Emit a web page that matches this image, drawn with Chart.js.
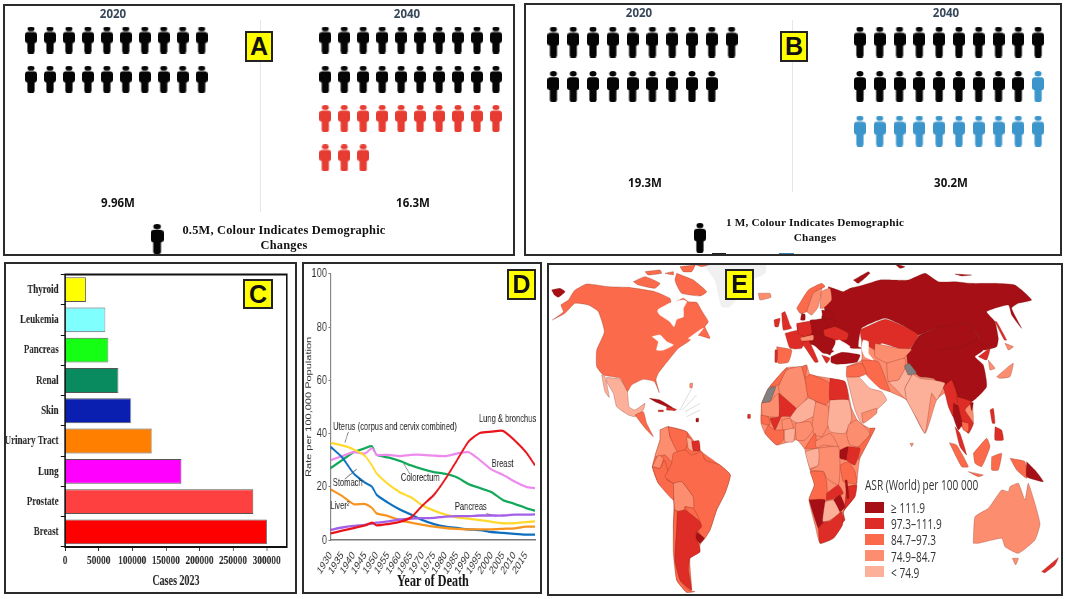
<!DOCTYPE html>
<html>
<head>
<meta charset="utf-8">
<title>Cancer burden figure</title>
<script src="https://cdn.jsdelivr.net/npm/chart.js@4/dist/chart.umd.min.js"></script>
<style>
  html, body { margin: 0; padding: 0; background: #fff; overflow: hidden; }
  body { width: 1065px; height: 599px; position: relative; }
  canvas { position: absolute; transform-origin: 0 0; }
  .panel { position: absolute; box-sizing: border-box; border: 2px solid #2b2b2b; }
  .tag { position: absolute; box-sizing: border-box; background: #ffff00; border: 2px solid #222; font: bold 25px "Liberation Sans"; color: #111; text-align: center; z-index: 5; }
  .txt { position: absolute; white-space: nowrap; transform: translate(-50%, -50%); z-index: 4; }
  .yr { font: bold 11.5px "Open Sans"; color: #37475a; }
  .tot { font: bold 11.5px "Open Sans"; color: #111; }
  .key { font: bold 12.4px "Liberation Serif"; color: #111; letter-spacing: .2px; }
  .divider { position: absolute; background: #e6e6e6; width: 1px; }
  .swatch { position: absolute; width: 19px; height: 11px; z-index: 4; }
  .lg { position: absolute; font: 14px "Open Sans"; color: #333; white-space: nowrap; transform-origin: 0 50%; transform: translateY(-50%) scaleX(.72); z-index: 4; }
</style>
</head>
<body>
<script>
// panel A / B counts (one icon = 0.5M / 1M)
const a2020Black = 20;
const a2040Black = 20;
const a2040Red = 13;
const b2020Black = 19;
const b2040Black = 19;
const b2040Blue = 11;

// panel C
const cancerTypes = ['Thyroid', 'Leukemia', 'Pancreas', 'Renal', 'Skin', 'Urinary Tract', 'Lung', 'Prostate', 'Breast'];
const cases2023 = [31000, 59500, 64000, 79000, 98000, 129000, 173000, 280000, 300000];
const caseTicks = [0, 50000, 100000, 150000, 200000, 250000, 300000];
const barColours = ['#ffff00', '#80ffff', '#14ff14', '#0a8a5f', '#0a1fb0', '#ff8000', '#ff00ff', '#ff4040', '#ff0000'];

// panel D, rate per 100,000
const years = [1930, 1935, 1940, 1945, 1948, 1950, 1955, 1960, 1965, 1970, 1975, 1980, 1985, 1990, 1995, 2000, 2005, 2010, 2015, 2019];
const lung = [2.5, 3.5, 4.5, 5.5, 6.5, 5.5, 6, 6.8, 8.5, 13, 17, 23, 30, 37, 40.2, 40.7, 41, 37.5, 33, 28];
const colorectum = [27, 30, 33, 34.5, 35.2, 32, 31, 29.7, 28, 26.6, 25.5, 24.8, 23.5, 21, 19.5, 18, 15, 13.6, 12, 11];
const breast = [30, 31.5, 33, 32.5, 34.5, 32, 32, 31.5, 32, 32, 31.7, 31.5, 32.5, 33, 30, 26.5, 24.5, 22, 20, 19.5];
const stomach = [35, 31, 25, 21.5, 20, 17, 14, 11.5, 9.5, 7.5, 6, 5, 4.5, 4, 3.7, 3, 2.7, 2.3, 2, 2];
const uterus = [36.5, 35.5, 34, 31.5, 28, 25, 21, 18, 16, 13, 11, 9.5, 8.5, 8, 7.5, 6.8, 6.3, 6.3, 6.7, 7];
const liver = [19, 16.5, 13.5, 13.5, 12, 10, 9, 7.5, 6.5, 5.7, 5, 4.5, 4.2, 4, 4, 4, 4.2, 4.4, 5, 5];
const pancreas = [3.8, 4.7, 5.3, 5.7, 6.2, 6.5, 7, 7.7, 8, 8.2, 8.3, 8.8, 9, 9, 9.2, 9.2, 9.2, 9.5, 9.5, 9.6];
const curveNotes = [['Lung & bronchus', 2007, 45.6], ['Uterus (corpus and cervix combined)', 1958, 42.4], ['Breast', 2004.8, 28.5], ['Stomach', 1937.4, 21.4], ['Colorectum', 1969, 23.3], ['Pancreas', 1991, 12.3], ['Liver²', 1934, 12.9]];
const noteLeaders = [[1937.7, 40.6, 1936.2, 36.6], [1941.3, 26.6, 1936.2, 22.9], [1961.9, 28.5, 1964.5, 24.8], [1997.8, 9.9, 2002.2, 8.9]];

// panel E legend
const asrLabels = ['≥ 111.9', '97.3–111.9', '84.7–97.3', '74.9–84.7', '< 74.9'];
const asrColours = ['#a50f15', '#de2d26', '#fb6a4a', '#fc8d6f', '#fcb09a'];
const WATER = 5, GREY = 6, ICE = 7;

// map outlines: [class, x, y, x, y ...]
const iceShapes = [
  [ICE, 480,20, 500,12, 660,12, 660,40, 620,60, 600,85, 555,140, 530,140, 510,60]
];
const americaShapes = [
  [2, 22,180, 55,155, 48,135, 70,120, 88,92, 125,72, 190,80, 250,82, 330,95, 375,115, 380,130, 415,115, 430,125, 455,127, 472,155, 490,185, 480,200, 495,235, 455,225, 430,245, 400,265, 375,295, 340,340, 333,360, 343,398, 328,365, 295,358, 260,375, 247,395, 225,355, 175,345, 155,320, 155,270, 178,215, 160,155, 130,135, 90,130, 60,160],
  [WATER, 340,148, 380,127, 415,120, 425,125, 415,145, 415,170, 395,178, 387,200, 375,185, 345,165, 338,155],
  [WATER, 322,230, 345,225, 365,245, 385,255, 355,270, 335,270, 340,245],
  [WATER, 430,235, 465,210, 475,205, 445,240],
  [2, 265,65, 300,50, 345,70, 330,85, 280,75],
  [2, 300,35, 345,30, 350,40, 310,45],
  [2, 360,40, 385,35, 385,45],
  [2, 395,40, 445,60, 485,95, 465,108, 410,100, 395,75, 390,60],
  [2, 405,20, 450,15, 440,35, 415,35],
  [2, 440,10, 505,10, 470,20],
  [3, 640,100, 675,100, 678,112, 645,120],
  [0, 20,90, 45,85, 60,95, 40,112, 28,105],
  [4, 185,352, 225,358, 247,395, 252,440, 270,450, 300,430, 295,450, 270,470, 250,465, 215,440, 205,400, 185,365],
  [4, 170,345, 180,350, 193,412, 180,395],
  [2, 270,465, 295,455, 305,490, 325,530, 305,510, 285,485],
  [0, 313,415, 345,420, 390,448, 365,440, 330,425],
  [1, 365,440, 395,448, 390,452, 365,450],
  [1, 340,450, 355,450, 355,455, 340,455],
  [2, 345,510, 370,500, 425,515, 470,575, 525,615, 556,645, 540,700, 515,750, 495,810, 465,855, 465,875, 435,895, 440,990, 425,997, 395,960, 385,800, 385,720, 340,670, 322,620, 345,540],
  [3, 345,510, 370,500, 375,530, 400,575, 385,610, 360,585, 330,590, 345,540],
  [2, 370,500, 425,515, 430,540, 420,570, 400,580, 375,530],
  [4, 425,530, 440,540, 445,575, 430,565],
  [1, 440,545, 462,542, 465,572, 445,572],
  [3, 322,620, 340,585, 355,595, 345,625],
  [2, 322,620, 345,625, 358,600, 370,640, 365,660, 385,670, 385,720, 340,670],
  [2, 380,610, 385,580, 420,570, 440,585, 470,575, 480,600, 525,615, 556,645, 540,700, 515,750, 495,810, 475,840, 440,760, 445,715, 410,665, 385,670, 360,650, 370,630],
  [3, 385,670, 410,665, 445,712, 445,745, 420,740, 415,755, 390,750],
  [2, 420,740, 445,745, 465,785, 445,790],
  [2, 388,750, 397,755, 395,810, 390,900, 405,960, 430,990, 450,995, 425,997, 395,960, 385,880, 385,800],
  [1, 397,755, 420,750, 465,785, 470,800, 453,820, 465,875, 435,895, 430,930, 440,990, 425,980, 405,960, 390,900, 395,810],
  [0, 455,815, 478,835, 465,850, 453,835],
  [3, 435,370, 443,370, 441,385, 434,382],
  [0, 453,475, 461,475, 460,486, 453,485],
  [1, 608,463, 616,463, 616,475, 608,475]
];
const islandLines = [[405,450, 440,385], [412,450, 455,405], [420,455, 465,430], [425,470, 465,450]];
const eurasiaShapes = [
  [3, 125,320, 170,300, 170,240, 210,270, 280,265, 310,270, 345,350, 385,355, 445,360, 500,425, 505,490, 490,520, 445,470, 420,400, 395,420, 360,520, 305,420, 255,395, 180,340],
  [0, 75,100, 70,80, 85,85, 115,95, 135,85, 175,75, 225,60, 260,60, 310,60, 360,40, 400,65, 450,65, 500,70, 570,70, 630,75, 680,120, 640,130, 620,145, 650,205, 620,165, 610,135, 545,155, 570,185, 580,235, 575,260, 535,270, 520,230, 490,190, 450,205, 395,205, 340,225, 300,200, 240,175, 170,205, 160,260, 180,265, 140,265, 105,245, 120,230, 60,210, 50,170, 60,155, 55,130, 75,120],
  [0, 145,60, 190,35, 195,40, 160,70],
  [0, 270,12, 300,20, 285,25],
  [0, 450,42, 500,45, 470,48],
  [0, 305,285, 340,230, 395,205, 450,205, 490,190, 520,230, 535,270, 510,290, 535,315, 545,380, 500,425, 455,410, 415,385, 385,355, 345,350, 310,320],
  [0, 340,228, 395,205, 490,190, 520,235, 470,260, 400,270, 350,245],
  [1, 165,210, 240,178, 300,200, 340,225, 310,270, 280,265, 230,250, 210,270, 170,240],
  [3, 210,250, 280,265, 320,268, 290,300, 250,310, 210,290],
  [2, 170,300, 220,305, 250,380, 255,395, 225,385, 180,340],
  [3, 245,310, 300,295, 300,330, 280,360, 250,365],
  [4, 250,365, 280,360, 305,320, 320,345, 300,385, 305,420, 270,385],
  [4, 305,330, 345,355, 385,360, 420,370, 395,420, 380,400, 360,520, 335,475, 305,420, 300,385, 320,345],
  [GREY, 298,318, 312,310, 335,340, 310,345],
  [1, 415,380, 440,360, 460,420, 445,470, 430,440, 420,400],
  [0, 445,430, 475,445, 480,480, 460,510, 445,470],
  [1, 455,410, 500,425, 480,450, 505,490, 490,520, 470,480],
  [2, 470,485, 490,490, 490,515, 475,510],
  [1, 450,500, 465,520, 485,585, 465,560],
  [1, 520,290, 555,265, 545,300],
  [3, 550,300, 570,325, 555,330],
  [3, 575,350, 610,320, 625,310, 615,350, 585,355],
  [3, 600,250, 625,260, 610,270],
  [0, 495,430, 505,428, 500,452],
  [1, 570,185, 575,185, 605,240, 598,240],
  [1, 555,450, 565,445, 570,490, 562,490],
  [1, 570,500, 590,510, 595,540, 570,540],
  [2, 505,580, 545,535, 555,560, 530,620, 510,610],
  [2, 433,548, 455,555, 490,620, 470,620],
  [2, 490,635, 535,645, 520,650],
  [2, 560,590, 590,580, 580,630, 560,630],
  [2, 615,595, 660,605, 665,655, 635,630],
  [0, 665,605, 690,630, 715,665, 665,650],
  [3, 505,850, 510,770, 550,745, 590,690, 610,695, 615,680, 640,670, 660,720, 670,670, 705,790, 690,840, 640,880, 600,860, 590,835, 520,850],
  [3, 622,895, 640,895, 632,915],
  [1, 710,935, 760,893, 750,915, 720,938],
  [3, 315,550, 325,550, 320,560],
  [4, 125,350, 160,350, 195,385, 230,395, 245,420, 215,450, 170,490, 150,450],
  [3, 170,460, 215,445, 215,460, 175,490],
  [2, 125,320, 170,310, 185,340, 165,350, 125,350],
  [WATER, 175,240, 190,245, 190,280, 205,300, 180,290, 170,265]
];
const europeShapes = [
  [0, 140,150, 230,130, 250,200, 240,240, 190,210, 150,200],
  [2, 140,100, 175,45, 215,25, 225,35, 190,55, 170,110, 150,115],
  [3, 170,110, 190,55, 215,40, 205,95, 185,120],
  [3, 210,100, 215,50, 240,40, 245,75, 220,100],
  [1, 95,115, 105,110, 120,150, 125,160, 100,165],
  [1, 72,135, 90,130, 85,155, 75,155],
  [0, 155,115, 165,118, 165,135, 152,135],
  [1, 105,175, 150,165, 165,195, 155,220, 120,220],
  [2, 80,215, 125,225, 115,262, 85,265, 82,240],
  [1, 75,225, 82,225, 82,262, 75,262],
  [1, 140,145, 180,140, 185,175, 165,185, 145,175],
  [0, 180,135, 225,135, 235,170, 190,170],
  [0, 215,105, 245,110, 245,132, 220,132],
  [0, 225,130, 255,135, 250,160, 235,165],
  [1, 220,165, 255,155, 295,175, 290,195, 255,195, 225,185],
  [0, 190,175, 255,195, 250,230, 220,235, 190,205],
  [1, 155,205, 175,195, 205,260, 195,262, 170,225],
  [3, 150,188, 190,180, 190,195, 155,198],
  [1, 215,240, 240,250, 230,265],
  [WATER, 247,225, 265,195, 300,215, 285,230, 255,228],
  [0, 243,245, 275,232, 330,240, 320,262, 260,268, 243,262]
];
const africaShapes = [
  [3, 58,48, 95,8, 140,5, 155,0, 165,28, 225,40, 270,50, 290,130, 310,170, 345,190, 360,190, 315,280, 305,360, 300,395, 265,440, 262,480, 235,520, 195,535, 180,480, 162,405, 178,360, 165,315, 150,255, 125,225, 65,240, 30,205, 18,175, 20,115, 40,70],
  [2, 58,48, 95,8, 100,15, 70,60, 45,65],
  [3, 70,65, 95,15, 140,5, 150,40, 158,95, 125,130, 75,85],
  [2, 140,5, 155,0, 150,40],
  [2, 150,40, 165,28, 225,55, 225,105, 210,120, 160,95],
  [1, 225,40, 270,50, 280,105, 225,105],
  [GREY, 20,115, 40,70, 62,65, 45,110],
  [3, 22,155, 20,115, 45,110, 70,85, 72,155, 40,155],
  [1, 72,85, 123,130, 123,155, 80,155, 60,195, 45,160, 72,155],
  [4, 125,130, 160,100, 182,110, 180,150, 130,175, 105,160],
  [3, 182,110, 220,125, 222,175, 200,215, 180,210, 170,190],
  [4, 225,105, 280,105, 290,160, 270,205, 225,200, 218,175],
  [3, 280,180, 305,165, 345,205, 315,245, 285,240, 275,210],
  [2, 345,190, 360,190, 310,285, 312,245, 345,210],
  [3, 120,175, 165,170, 175,195, 150,225, 125,225],
  [2, 150,250, 180,205, 185,250],
  [3, 180,230, 225,205, 250,245, 205,240, 185,250],
  [2, 18,150, 40,155, 45,180, 20,175],
  [2, 40,180, 60,195, 85,195, 85,225, 65,240, 30,205],
  [3, 80,165, 105,160, 115,190, 85,195],
  [4, 88,195, 120,190, 115,230, 90,230],
  [3, 185,250, 250,245, 255,310, 250,360, 215,340, 205,320, 165,315, 190,300],
  [4, 150,260, 190,250, 190,300, 165,310],
  [0, 255,255, 280,245, 275,285, 255,280],
  [1, 280,245, 315,250, 300,300, 275,285],
  [2, 255,300, 280,290, 300,320, 305,355, 265,350],
  [2, 165,320, 205,320, 215,350, 215,405, 162,405, 178,360],
  [1, 215,385, 250,360, 265,385, 240,400, 215,405],
  [1, 275,365, 305,360, 300,395, 265,440, 270,465, 260,475, 268,430],
  [0, 270,345, 276,345, 282,400, 276,400],
  [0, 235,405, 255,390, 270,425, 255,440],
  [0, 162,405, 210,405, 205,485, 190,490],
  [4, 210,410, 235,405, 255,445, 225,465, 203,470],
  [1, 190,490, 205,472, 225,468, 260,440, 262,480, 235,520, 195,535]
];

Chart.defaults.animation = false;

function el(cls, css, text) {
  const d = document.createElement('div');
  d.className = cls;
  Object.assign(d.style, css);
  if (text) d.textContent = text;
  document.body.appendChild(d);
  return d;
}
function txt(cls, x, y, text) {
  el('txt ' + cls, { left: x + 'px', top: y + 'px' }, text);
}
function addCanvas(left, top, w, h, squeeze) {
  const c = document.createElement('canvas');
  c.width = squeeze ? Math.round(w / squeeze) : w;
  c.height = h;
  c.style.left = left + 'px';
  c.style.top = top + 'px';
  if (squeeze) c.style.transform = 'scaleX(' + squeeze + ')';
  document.body.appendChild(c);
  return c;
}

// panel frames and letters
el('panel', { left: '3px', top: '4px', width: '512px', height: '252px' });
el('panel', { left: '524px', top: '3px', width: '538px', height: '253px' });
el('panel', { left: '4px', top: '262px', width: '293px', height: '332px' });
el('panel', { left: '302px', top: '262px', width: '240px', height: '332px' });
el('panel', { left: '547px', top: '263px', width: '516px', height: '333px' });
[['A', 245, 31, 28, 31], ['B', 780, 31, 28, 31], ['C', 243, 279, 30, 30], ['D', 507, 269, 29, 31], ['E', 725, 269, 29, 31]].forEach(t => {
  el('tag', { left: t[1] + 'px', top: t[2] + 'px', width: t[3] + 'px', height: t[4] + 'px', lineHeight: (t[4] - 4) + 'px' }, t[0]);
});

// person icon used as point style
function person(colour, w, h) {
  const c = document.createElement('canvas');
  c.width = w;
  c.height = h;
  const g = c.getContext('2d');
  g.fillStyle = colour;
  g.beginPath();
  g.ellipse(w / 2, h * 0.09, w * 0.29, h * 0.09, 0, 0, Math.PI * 2);
  g.fill();
  g.beginPath();
  g.roundRect(0, h * 0.2, w, h * 0.42, w * 0.25);
  g.fill();
  g.beginPath();
  g.roundRect(w * 0.2, h * 0.3, w * 0.6, h * 0.7, 2);
  g.fill();
  return c;
}
function iconRow(start, count, colOffset) {
  const pts = [];
  for (let i = start; i < start + count; i++) {
    pts.push({ x: colOffset + i % 10, y: Math.floor(i / 10) });
  }
  return pts;
}
function iconChart(left, top, w, h, firstX, firstY, stepX, stepY, sets) {
  new Chart(addCanvas(left, top, w, h), {
    type: 'scatter',
    data: {
      datasets: sets.map(s => ({
        data: s.data,
        pointStyle: s.icon,
        pointRadius: 8,
        clip: false
      }))
    },
    options: {
      responsive: false,
      layout: { padding: 0, autoPadding: false },
      plugins: { legend: { display: false }, tooltip: { enabled: false } },
      scales: {
        x: { display: false, min: (left - firstX) / stepX, max: (left + w - firstX) / stepX },
        y: { display: false, reverse: true, min: (top - firstY) / stepY, max: (top + h - firstY) / stepY }
      }
    }
  });
}

// panel A
iconChart(5, 6, 508, 248, 31, 40, 18.96, 39.3, [
  { data: iconRow(0, a2020Black, 0), icon: person('#050505', 12, 27) },
  { data: iconRow(0, a2040Black, 15.52), icon: person('#050505', 12, 27) },
  { data: iconRow(a2040Black, a2040Red, 15.52), icon: person('#e63c32', 12, 27) },
  { data: [{ x: 6.65, y: 5.06 }], icon: person('#050505', 13, 30) }
]);
el('divider', { left: '260px', top: '20px', height: '192px' });
txt('yr', 113, 13, '2020');
txt('yr', 407, 13, '2040');
txt('tot', 118, 202, '9.96M');
txt('tot', 413, 202, '16.3M');
txt('key', 284, 230, '0.5M, Colour Indicates Demographic');
txt('key', 284, 245, 'Changes');

// panel B
iconChart(526, 5, 534, 249, 553.4, 42, 19.8, 44.5, [
  { data: iconRow(0, b2020Black, 0), icon: person('#050505', 12, 31) },
  { data: iconRow(0, b2040Black, 15.48), icon: person('#050505', 12, 31) },
  { data: iconRow(b2040Black, b2040Blue, 15.48), icon: person('#3c96cc', 12, 31) },
  { data: [{ x: 7.4, y: 4.4 }], icon: person('#050505', 12, 30) }
]);
el('divider', { left: '792px', top: '20px', height: '172px' });
el('divider', { left: '712px', top: '253px', height: '1px', width: '14px', background: '#222' });
el('divider', { left: '779px', top: '253px', height: '1px', width: '15px', background: '#3c7fb0' });
txt('yr', 639, 12, '2020');
txt('yr', 946, 12, '2040');
txt('tot', 645, 182, '19.3M');
txt('tot', 951, 182, '30.2M');
txt('key', 815, 222, '1 M, Colour Indicates Demographic');
txt('key', 815, 237, 'Changes');
document.querySelectorAll('.key').forEach((k, i) => { if (i > 1) k.style.fontSize = '11.2px'; });

// stroke round the plot area of panel C
const plotFrame = {
  id: 'plotFrame',
  afterDraw(chart) {
    const a = chart.chartArea, g = chart.ctx;
    g.save();
    g.strokeStyle = '#111';
    g.lineWidth = 2;
    g.strokeRect(a.left, a.top, a.right - a.left, a.bottom - a.top);
    g.restore();
  }
};

// panel C, squeezed like the source image
const squeeze = 0.72;
new Chart(addCanvas(6, 264, 289, 328, squeeze), {
  type: 'bar',
  data: {
    labels: cancerTypes,
    datasets: [{
      data: cases2023,
      backgroundColor: barColours,
      borderColor: '#555',
      borderWidth: 1,
      categoryPercentage: 1,
      barPercentage: 0.82
    }]
  },
  options: {
    indexAxis: 'y',
    responsive: false,
    layout: { padding: { top: 8, right: 11 }, autoPadding: false },
    plugins: { legend: { display: false }, tooltip: { enabled: false } },
    scales: {
      y: {
        grid: { display: true, drawOnChartArea: false, color: '#111', tickLength: 6 },
        border: { color: '#111', width: 2 },
        ticks: { color: '#222', font: { family: 'Liberation Serif', weight: 'bold', size: 12.5 }, padding: 3, autoSkip: false },
        afterFit(s) { s.width = 82; }
      },
      x: {
        min: 0,
        max: 330000,
        afterBuildTicks(s) { s.ticks = caseTicks.map(v => ({ value: v })); },
        grid: { display: true, drawOnChartArea: false, color: '#111', tickLength: 4 },
        border: { color: '#111', width: 2 },
        ticks: { maxRotation: 0, color: '#222', font: { family: 'Liberation Serif', weight: 'bold', size: 13 }, padding: 2, autoSkip: false, callback: v => String(v) },
        title: { display: true, text: 'Cases 2023', color: '#222', font: { family: 'Liberation Serif', weight: 'bold', size: 14, lineHeight: 0.9 }, padding: { top: 1 } },
        afterFit(s) { s.height = 45; }
      }
    }
  },
  plugins: [plotFrame]
});

// panel D
const curveNotesPlugin = {
  id: 'curveNotes',
  afterDatasetsDraw(chart) {
    const g = chart.ctx, x = chart.scales.x, y = chart.scales.y;
    g.save();
    g.font = '10.5px "Liberation Sans"';
    g.fillStyle = '#222';
    g.textAlign = 'center';
    g.textBaseline = 'middle';
    curveNotes.forEach(n => g.fillText(n[0], x.getPixelForValue(n[1]), y.getPixelForValue(n[2])));
    g.restore();
  }
};
function curve(values, colour) {
  return {
    data: values.map((v, i) => ({ x: years[i], y: v })),
    borderColor: colour,
    borderWidth: 2.3,
    showLine: true,
    pointRadius: 0,
    tension: 0.2
  };
}
const leaderSets = noteLeaders.map(l => ({
  data: [{ x: l[0], y: l[1] }, { x: l[2], y: l[3] }],
  borderColor: '#444',
  borderWidth: 0.8,
  showLine: true,
  pointRadius: 0
}));
// first dataset is painted last, so lung sits on top
new Chart(addCanvas(304, 264, 236, 328, squeeze), {
  type: 'scatter',
  data: {
    datasets: [
      curve(lung, '#e8141c'),
      curve(pancreas, '#a460e8'),
      curve(liver, '#f7931e'),
      curve(uterus, '#ffd92e'),
      curve(stomach, '#0d6fbe'),
      curve(breast, '#ee8aee'),
      curve(colorectum, '#12a85a')
    ].concat(leaderSets)
  },
  options: {
    responsive: false,
    layout: { padding: { top: 7, right: 7 }, autoPadding: false },
    plugins: { legend: { display: false }, tooltip: { enabled: false } },
    scales: {
      y: {
        min: 0,
        max: 100,
        grid: { display: true, drawOnChartArea: false, color: '#777', tickLength: 3 },
        border: { color: '#777', width: 1.5 },
        ticks: { stepSize: 20, color: '#333', font: { family: 'Liberation Sans', size: 13 }, padding: 2 },
        title: { display: true, text: 'Rate per 100,000 Population', color: '#333', font: { family: 'Liberation Sans', size: 11 }, padding: 0 },
        afterFit(s) { s.width = 37; }
      },
      x: {
        type: 'linear',
        min: 1930,
        max: 2019,
        grid: { display: false },
        border: { color: '#777', width: 1.5 },
        ticks: { stepSize: 5, includeBounds: false, minRotation: 50, maxRotation: 50, autoSkip: false, color: '#333', font: { family: 'Liberation Sans', size: 11.5 }, padding: 1, callback: v => String(v) },
        title: { display: true, text: 'Year of Death', color: '#111', font: { family: 'Liberation Serif', weight: 'bold', size: 17 }, padding: 0 },
        afterFit(s) { s.height = 52; }
      }
    }
  },
  plugins: [curveNotesPlugin]
});

// panel E, outlines are filled through the chart's own scales
function shapeSets(list, ox, oy) {
  return list.map(s => {
    const cls = s[0], pts = [];
    for (let i = 1; i < s.length; i += 2) pts.push({ x: ox + s[i] / 3, y: oy + s[i + 1] / 3 });
    pts.push(pts[0]);
    let colour = asrColours[cls], edge = 'rgba(120,30,20,.45)';
    if (cls === WATER) { colour = '#fff'; edge = '#fff'; }
    if (cls === GREY) colour = '#808080';
    if (cls === ICE) { colour = '#f0f0f0'; edge = '#f0f0f0'; }
    return { data: pts, showLine: true, fill: 'shape', backgroundColor: colour, borderColor: edge, borderWidth: 0.6, pointRadius: 0, tension: 0.15 };
  });
}
const lineSets = islandLines.map(l => ({
  data: [{ x: 545 + l[0] / 3, y: 260 + l[1] / 3 }, { x: 545 + l[2] / 3, y: 260 + l[3] / 3 }],
  showLine: true,
  borderColor: '#ddd',
  borderWidth: 1,
  pointRadius: 0
}));
new Chart(addCanvas(549, 265, 512, 329), {
  type: 'scatter',
  data: {
    // reversed: chart.js paints the last dataset first
    datasets: [].concat(
      shapeSets(iceShapes, 545, 260),
      shapeSets(americaShapes, 545, 260),
      lineSets,
      shapeSets(eurasiaShapes, 805, 260),
      shapeSets(africaShapes, 755, 365),
      shapeSets(europeShapes, 750, 275)
    ).reverse()
  },
  options: {
    responsive: false,
    layout: { padding: 0, autoPadding: false },
    plugins: { legend: { display: false }, tooltip: { enabled: false } },
    scales: {
      // suggested bounds: the outlines are not sorted by x, so hard min/max would cut them
      x: { display: false, bounds: 'data', suggestedMin: 549, suggestedMax: 1061 },
      y: { display: false, reverse: true, min: 265, max: 594 }
    }
  }
});
el('lg', { left: '865px', top: '484px' }, 'ASR (World) per 100 000');
asrLabels.forEach((label, i) => {
  const y = 507 + i * 16.2;
  el('swatch', { left: '865px', top: (y - 5.5) + 'px', background: asrColours[i] });
  el('lg', { left: '891px', top: y + 'px' }, label);
});
</script>
</body>
</html>
